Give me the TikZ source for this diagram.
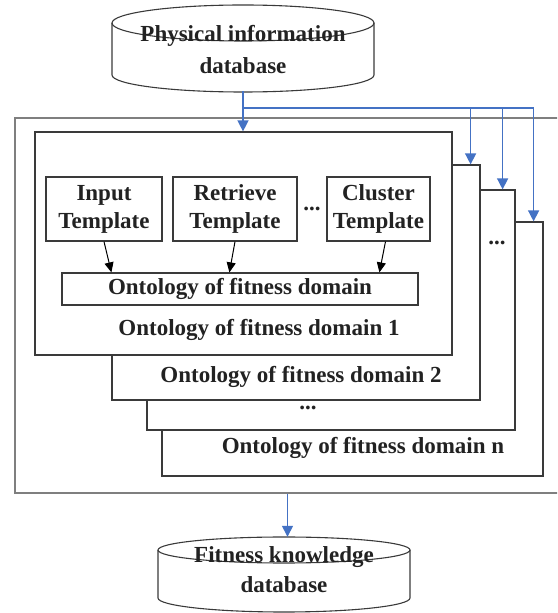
\documentclass[tikz,border=0pt]{standalone}
\usepackage{fontspec}
\setmainfont{Liberation Serif}
\usetikzlibrary{arrows.meta,calc}
\definecolor{lineblue}{HTML}{4472C4}
\definecolor{boxline}{HTML}{3A3A3A}
\definecolor{outerline}{HTML}{7F7F7F}
\definecolor{txt}{HTML}{222222}
\tikzset{
  txtstyle/.style={font=\fontsize{23}{28}\selectfont\bfseries, text=txt, align=center, inner sep=0pt},
  tbox/.style={txtstyle, draw=boxline, line width=1.2pt, fill=white},
  dombox/.style={draw=boxline, line width=1.2pt, fill=white, inner sep=0pt},
  ghost/.style={inner sep=0pt, draw=none},
  cyl/.style={draw=boxline, line width=1.1pt},
  barr/.style={draw=lineblue, line width=1.4pt, -{Triangle[length=11pt,width=11pt]}},
  bline/.style={draw=lineblue, line width=1.4pt},
  karr/.style={draw=black, line width=1pt, -{Triangle[length=10pt,width=9pt]}}
}
\begin{document}
\begin{tikzpicture}[x=1pt,y=1pt]
\useasboundingbox (0,0) rectangle (557,613);
\clip (0,0) rectangle (557,613);
% top cylinder
\node[ghost, minimum width=262pt, minimum height=87pt] (db1) at (243,565.5) {};
\draw[cyl] (112,590) -- (112,538) arc[start angle=180,end angle=360,x radius=131pt,y radius=17pt] -- (374,590);
\draw[cyl] (243,590) ellipse[x radius=131pt,y radius=18pt];
\node[txtstyle, font=\fontsize{23}{32}\selectfont\bfseries] (db1t) at (243,563) {Physical information\\database};
% outer box
\node[draw=outerline, line width=1.5pt, minimum width=545pt, minimum height=375pt, inner sep=0pt] (outer) at (287.5,307.5) {};
% domain boxes (back to front)
\node[dombox, minimum width=381pt, minimum height=254pt] (dn) at (352.5,264) {};
\node[dombox, minimum width=368pt, minimum height=240pt] (d3) at (331,303) {};
\node[dombox, minimum width=368pt, minimum height=235pt] (d2) at (296,330.5) {};
\node[dombox, minimum width=417pt, minimum height=223pt] (d1) at (243.5,369.5) {};
\node[txtstyle] (t1) at (259,283) {Ontology of fitness domain 1};
\node[txtstyle] (t2) at (301,236) {Ontology of fitness domain 2};
\node[txtstyle] (t3) at (308,205) {...};
\node[txtstyle] (tn) at (363,165) {Ontology of fitness domain n};
\node[txtstyle] (dots2) at (497,370) {...};
% templates
\node[tbox, minimum width=116pt, minimum height=64pt] (input) at (104,404) {Input\\Template};
\node[tbox, minimum width=124pt, minimum height=64pt] (retrieve) at (235,404) {Retrieve\\Template};
\node[txtstyle] (dots1) at (312,404) {...};
\node[tbox, minimum width=103pt, minimum height=64pt] (cluster) at (378.5,404) {Cluster\\Template};
\node[tbox, minimum width=356pt, minimum height=32pt] (onto) at (240,324) {Ontology of fitness domain};
\draw[karr] (input.south) -- ($(onto.north west)+(50,0)$);
\draw[karr] (retrieve.south) -- ($(onto.north west)+(168,0)$);
\draw[karr] ($(cluster.south)+(7,0)$) -- ($(onto.north west)+(318,0)$);
% blue connectors
\coordinate (a2) at ($(d2.north east)+(-10,0)$);
\coordinate (a3) at ($(d3.north east)+(-13,0)$);
\coordinate (an) at ($(dn.north east)+(-10,0)$);
\coordinate (j) at (243,505);
\draw[barr] (db1.south) -- (db1.south |- d1.north);
\draw[bline] (j) -- (j -| an);
\draw[barr] (j -| a2) -- (a2);
\draw[barr] (j -| a3) -- (a3);
\draw[barr] (j -| an) -- (an);
% bottom cylinder
\node[ghost, minimum width=252pt, minimum height=75pt] (db2) at (284,38.5) {};
\draw[cyl] (158,63) -- (158,15) arc[start angle=180,end angle=360,x radius=126pt,y radius=14pt] -- (410,63);
\draw[cyl] (284,63) ellipse[x radius=126pt,y radius=13pt];
\node[txtstyle, font=\fontsize{23}{30}\selectfont\bfseries] (db2t) at (284,43) {Fitness knowledge\\database};
\draw[barr] (outer.south) -- (outer.south |- db2.north);
\end{tikzpicture}
\end{document}
